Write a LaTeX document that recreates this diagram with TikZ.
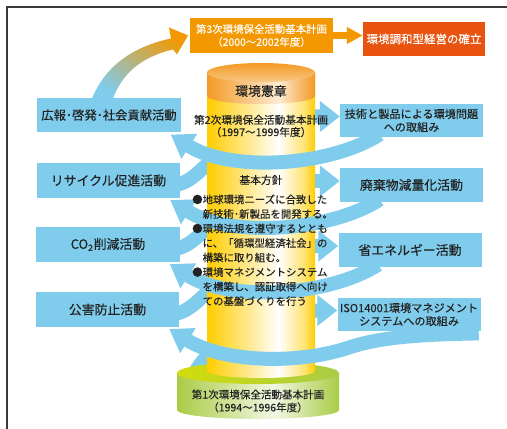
\documentclass[tikz,border=0pt]{standalone}
\usepackage{fontspec}
\setmainfont{Noto Sans CJK JP}[FakeBold=0.3]
\usetikzlibrary{calc,arrows.meta}
\definecolor{BandBlue}{HTML}{80CCEC}
\definecolor{PlanOrange}{HTML}{F39800}
\definecolor{GoalRed}{HTML}{E8540F}
\definecolor{PillarGold}{HTML}{FFCD00}
\definecolor{PillarOrange}{HTML}{F39A24}
\definecolor{BaseGreen}{HTML}{A9CC46}
\definecolor{BaseLime}{HTML}{D2DC0A}
\definecolor{FrameGray}{HTML}{3A3A3A}
\definecolor{InkDark}{HTML}{222222}

% side shadings of the pillar and of the green base
\pgfdeclarehorizontalshading{pillarbody}{100bp}{color(0bp)=(PillarGold); color(25bp)=(PillarGold); color(42bp)=(PillarGold!50!white); color(58bp)=(white); color(70bp)=(PillarGold!55!white); color(75bp)=(PillarGold); color(100bp)=(PillarGold)}
\pgfdeclarehorizontalshading{pillarcap}{100bp}{color(0bp)=(PillarOrange); color(25bp)=(PillarOrange); color(58bp)=(PillarOrange!20!white); color(75bp)=(PillarOrange); color(100bp)=(PillarOrange)}
\pgfdeclarehorizontalshading{baseside}{100bp}{color(0bp)=(BaseGreen); color(25bp)=(BaseGreen); color(55bp)=(BaseGreen!15!white); color(75bp)=(BaseGreen); color(100bp)=(BaseGreen)}

\pgfdeclarelayer{behind}
\pgfdeclarelayer{pillar}
\pgfdeclarelayer{front}
\pgfsetlayers{behind,pillar,front,main}

\begin{document}
\begin{tikzpicture}[x=0.03cm, y=-0.03cm,
  actbox/.style={fill=BandBlue, text=InkDark, minimum width=4.29cm, minimum height=1.04cm,
    inner sep=0pt, align=center, font=\fontsize{11}{13}\selectfont},
  twoline/.style={font=\fontsize{9.5}{11.2}\selectfont},
  planbox/.style={text=white, inner sep=0pt, align=center, font=\fontsize{8.9}{11}\selectfont},
  pillartext/.style={text=InkDark, inner sep=0pt, align=center, font=\fontsize{9.1}{10.4}\selectfont},
  band/.style={BandBlue, line width=4.2mm, line join=round},
  lefttip/.style={-{Triangle[length=6.6mm, width=8.4mm]}},
  righttip/.style={-{Triangle[length=6mm, width=9mm]}}]

  \useasboundingbox (0,0) rectangle (507,429);

  % Frame (top and left edges only)
  \draw[FrameGray, line width=0.5mm] (7,429) -- (7,7) -- (507,7);

  % ============================================
  % Plans and goal at the top
  % ============================================
  \node[planbox, fill=PlanOrange, minimum width=4.29cm, minimum height=1.05cm] (plan3) at (261.5,35.5)
    {第3次環境保全活動基本計画\\（2000〜2002年度）};
  \node[planbox, fill=GoalRed, minimum width=3.66cm, minimum height=1.02cm,
    font=\fontsize{9.8}{12}\selectfont] (goal) at (424,39) {環境調和型経営の確立};
  \draw[PlanOrange, line width=2.1mm, -{Triangle[length=4.8mm, width=4.8mm]}]
    (plan3.east) -- (plan3.east -| goal.west);

  % ============================================
  % Activities, left and right
  % ============================================
  \node[actbox, font=\fontsize{10.5}{12}\selectfont] (pr) at (109,115) {広報･啓発･社会貢献活動};
  \node[actbox] (rc) at (108.5,180.5) {リサイクル促進活動};
  \node[actbox] (co) at (108,244.5) {CO\textsubscript{2}削減活動};
  \node[actbox] (pp) at (107.5,309.5) {公害防止活動};

  \node[actbox, twoline, minimum height=1cm] (tech) at (411.5,120.5) {技術と製品による環境問題\\への取組み};
  \node[actbox] (waste) at (411.5,185) {廃棄物減量化活動};
  \node[actbox] (energy) at (410,250) {省エネルギー活動};
  \node[actbox, twoline, minimum height=1cm] (iso) at (409,314.5) {ISO14001環境マネジメント\\システムへの取組み};

  % ============================================
  % Texts on the pillar and on the base
  % ============================================
  \node[pillartext, font=\fontsize{11}{13}\selectfont] (charter) at (261,91) {環境憲章};
  \node[pillartext] (plan2) at (261,126) {第2次環境保全活動基本計画\\（1997〜1999年度）};
  \node[pillartext, font=\fontsize{9.2}{11}\selectfont] (policy) at (261,180) {基本方針};
  \node[pillartext, anchor=north west, font=\fontsize{8.9}{12.4}\selectfont] (aims) at (192,193)
    {\begin{tabular}{@{}l@{}l@{}}
      ●&地球環境ニーズに合致した\\
       &新技術･新製品を開発する。\\
      ●&環境法規を遵守するととも\\
       &に、「循環型経済社会」の\\
       &構築に取り組む。\\
      ●&環境マネジメントシステム\\
       &を構築し、認証取得へ向け\\
       &ての基盤づくりを行う
    \end{tabular}};
  \node[pillartext, font=\fontsize{9}{11}\selectfont] (plan1) at (258,401)
    {第1次環境保全活動基本計画\\（1994〜1996年度）};
  \coordinate (baseTop) at (258,373);

  % ============================================
  % Pillar on its green base
  % ============================================
  \begin{pgfonlayer}{pillar}
    % base
    \shade[shading=baseside] (177,373) -- (177,410)
      arc[start angle=180, end angle=0, x radius=81, y radius=9] -- (339,373) -- cycle;
    \shade[left color=BaseLime, right color=BaseGreen] (baseTop) ellipse [x radius=81, y radius=11];
    % body
    \shade[shading=pillarbody] (207,72) -- (207,371)
      arc[start angle=180, end angle=0, x radius=54, y radius=7] -- (315,72) -- cycle;
    % orange cap band and top face
    \shade[shading=pillarcap] (207,72) -- (207,96)
      arc[start angle=180, end angle=0, x radius=54, y radius=8] -- (315,72) -- cycle;
    \shade[top color=PillarOrange, bottom color=PillarOrange!55!white] (261,72.5)
      ellipse [x radius=54, y radius=9.5];
  \end{pgfonlayer}

  % ============================================
  % Spiral: behind the pillar to the right boxes
  % ============================================
  \begin{pgfonlayer}{behind}
    \draw[band, righttip] ($(rc.east)+(-10,5)$) .. controls +(22,0) and +(-18,12) .. ($(rc.east)+(42,-29)$)
      -- ($(tech.west)+(-40,-4)$) -- ($(tech.west)+(0,-4)$);
    \draw[band, righttip] ($(co.east)+(-10,5)$) .. controls +(22,0) and +(-18,12) .. ($(co.east)+(42,-29)$)
      -- ($(waste.west)+(-40,-4)$) -- ($(waste.west)+(0,-4)$);
    \draw[band, righttip] ($(pp.east)+(-10,5)$) .. controls +(22,0) and +(-18,12) .. ($(pp.east)+(42,-29)$)
      -- ($(energy.west)+(-40,-4)$) -- ($(energy.west)+(0,-4)$);
    % first turn rises out of the base
    \draw[band, righttip] ($(baseTop)+(-66,5)$) .. controls +(6,-12) and +(-16,8) .. ($(baseTop)+(-36,-27)$)
      -- ($(iso.west)+(-40,-4)$) -- ($(iso.west)+(0,-4)$);
  \end{pgfonlayer}

  % ============================================
  % Spiral: in front of the pillar back to the left boxes
  % ============================================
  \begin{pgfonlayer}{front}
    \draw[band, lefttip] ($(tech.south west)+(40,-3)$) .. controls +(-50,32) and +(60,38) .. ($(pr.south east)+(-10,2)$);
    \draw[band, lefttip] ($(waste.south west)+(40,-3)$) .. controls +(-50,32) and +(60,38) .. ($(rc.south east)+(-10,2)$);
    \draw[band, lefttip] ($(energy.south west)+(40,-3)$) .. controls +(-50,32) and +(60,38) .. ($(co.south east)+(-10,2)$);
    \draw[band, lefttip] ($(iso.south east)+(-2,2)$) .. controls +(-60,1) and +(30,-10) .. ($(iso.south west)+(12,16)$)
      .. controls +(-50,17) and +(55,34) .. ($(pp.south east)+(-10,2)$);

    % rising arrow from the top activity to the 3rd plan
    \begin{scope}[shift={(pr.north)}]
      \shade[bottom color=BandBlue, top color=PlanOrange, shading angle=-35]
        (-17,1) .. controls (-4,-30) and (21,-50) .. (62,-59)
        -- (60,-70) -- (79,-62) -- (68,-43) -- (64,-48)
        .. controls (31,-40) and (13,-23) .. (4,1) -- cycle;
    \end{scope}
  \end{pgfonlayer}

\end{tikzpicture}
\end{document}
